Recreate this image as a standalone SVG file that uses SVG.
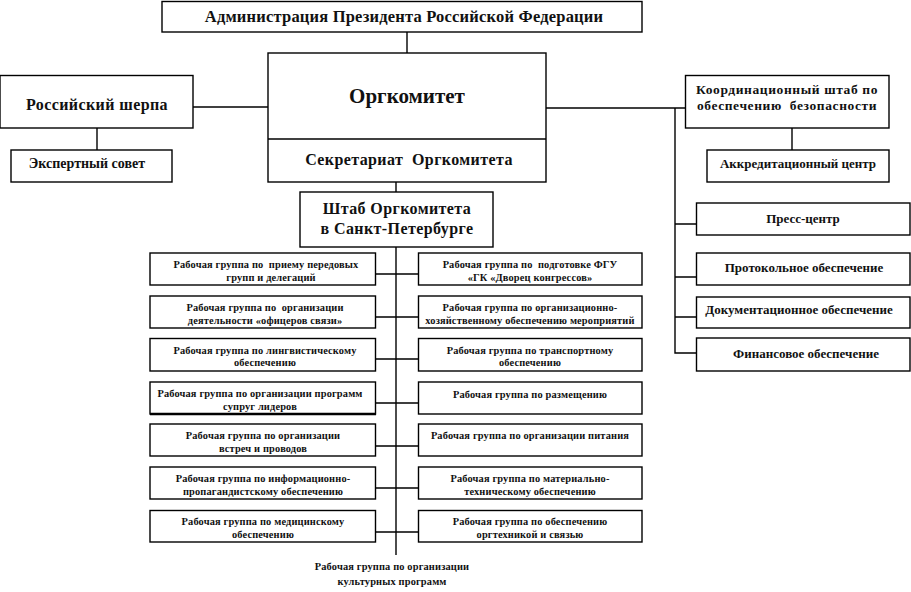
<svg xmlns="http://www.w3.org/2000/svg" width="911" height="592" viewBox="0 0 911 592">
<style>
rect{fill:#fff;stroke:#000;stroke-width:1.4}
text{font-family:"Liberation Serif","Times New Roman",serif;font-weight:bold;fill:#111;text-anchor:middle}
.s{font-size:10.4px;letter-spacing:0.15px}
.m{font-size:13px}
.l{font-size:16px;letter-spacing:0.4px}
#connectors path{fill:none;stroke:#000;stroke-width:1.4}
</style>
<rect width="911" height="592" style="fill:#fff;stroke:none"/>
<g id="connectors">
<path d="M407 32V53"/>
<path d="M193 107H268"/>
<path d="M97 128V150"/>
<path d="M546 108H685"/>
<path d="M675 108V353H696"/>
<path d="M675 224H696M675 277H696M675 317H696"/>
<path d="M792 128V150"/>
<path d="M396 182V192"/>
<path d="M396 247V555"/>
<path d="M375 274H418M375 317H418M375 359H418M375 403H418M375 446H418M375 488H418M375 532H418"/>
</g>
<g id="admin"><rect x="162" y="1.5" width="480" height="30.5"/><text x="404" y="22" style="font-size:16.5px;letter-spacing:0.2px">Администрация Президента Российской Федерации</text></g>
<g id="orgkomitet"><rect x="268" y="53" width="278" height="129"/><path d="M268 139H546" style="stroke:#000;stroke-width:1.4"/><text x="407" y="103" style="font-size:21px">Оргкомитет</text></g>
<g id="secretariat"><text x="409" y="165" class="l" xml:space="preserve">Секретариат  Оргкомитета</text></g>
<g id="sherpa"><rect x="0" y="75.5" width="193" height="52.5"/><text x="97" y="110" class="l">Российский шерпа</text></g>
<g id="expert"><rect x="11" y="150" width="161" height="32"/><text x="87" y="168" style="font-size:14px">Экспертный совет</text></g>
<g id="shtab"><rect x="300" y="192" width="193" height="55"/><text x="397" y="214" class="l">Штаб Оргкомитета</text><text x="397" y="234" class="l">в Санкт-Петербурге</text></g>
<g id="coord"><rect x="685.5" y="75.5" width="203.5" height="52.5"/><text x="787" y="94" style="font-size:13.5px;letter-spacing:0.6px">Координационный штаб по</text><text x="787" y="110" style="font-size:13.5px;letter-spacing:0.6px" xml:space="preserve">обеспечению  безопасности</text></g>
<g id="accred"><rect x="707" y="150" width="182" height="32"/><text x="798" y="167.5" class="m">Аккредитационный центр</text></g>
<g id="press"><rect x="696.5" y="203" width="213.5" height="32"/><text x="803" y="222.5" class="m">Пресс-центр</text></g>
<g id="protocol"><rect x="696.5" y="253" width="213.5" height="32"/><text x="804" y="271.5" class="m">Протокольное обеспечение</text></g>
<g id="docs"><rect x="696.5" y="297" width="213.5" height="31"/><text x="799" y="313.5" class="m">Документационное обеспечение</text></g>
<g id="finance"><rect x="696.5" y="338" width="213.5" height="33"/><text x="806" y="357.5" class="m">Финансовое обеспечение</text></g>
<g id="wg-l1"><rect x="150" y="253" width="225.5" height="32"/><text x="266" y="268" class="s" xml:space="preserve">Рабочая группа по  приему передовых</text><text x="271" y="280.5" class="s">групп и делегаций</text></g>
<g id="wg-l2"><rect x="150" y="296" width="225.5" height="32"/><text x="265" y="311" class="s" xml:space="preserve">Рабочая группа по  организации</text><text x="265" y="323.5" class="s">деятельности «офицеров связи»</text></g>
<g id="wg-l3"><rect x="150" y="338.5" width="225.5" height="32.5"/><text x="265" y="353.5" class="s">Рабочая группа по лингвистическому</text><text x="265" y="366" class="s">обеспечению</text></g>
<g id="wg-l4"><rect x="150" y="382" width="225.5" height="32"/><path d="M150 414H376" style="stroke:#000;stroke-width:2.5"/><text x="260" y="397" class="s">Рабочая группа по организации программ</text><text x="260" y="409.5" class="s">супруг лидеров</text></g>
<g id="wg-l5"><rect x="150" y="424" width="225.5" height="32"/><text x="263" y="439" class="s">Рабочая группа по организации</text><text x="263" y="451.5" class="s">встреч и проводов</text></g>
<g id="wg-l6"><rect x="150" y="467" width="225.5" height="32"/><text x="263" y="482" class="s">Рабочая группа по информационно-</text><text x="263" y="494.5" class="s">пропагандистскому обеспечению</text></g>
<g id="wg-l7"><rect x="150" y="510.5" width="225.5" height="31.5"/><text x="263" y="525" class="s">Рабочая группа по медицинскому</text><text x="263" y="537.5" class="s">обеспечению</text></g>
<g id="wg-r1"><rect x="418.5" y="253" width="223.5" height="32"/><text x="530" y="268" class="s" xml:space="preserve">Рабочая группа по  подготовке ФГУ</text><text x="530" y="280.5" class="s">«ГК «Дворец конгрессов»</text></g>
<g id="wg-r2"><rect x="418.5" y="296" width="223.5" height="32"/><text x="530" y="311" class="s">Рабочая группа по организационно-</text><text x="530" y="323.5" class="s">хозяйственному обеспечению мероприятий</text></g>
<g id="wg-r3"><rect x="418.5" y="338.5" width="223.5" height="32.5"/><text x="530" y="353.5" class="s">Рабочая группа по транспортному</text><text x="530" y="366" class="s">обеспечению</text></g>
<g id="wg-r4"><rect x="418.5" y="382" width="223.5" height="32"/><text x="530" y="397.5" class="s">Рабочая группа по размещению</text></g>
<g id="wg-r5"><rect x="418.5" y="424" width="223.5" height="32"/><text x="530" y="438.5" class="s">Рабочая группа по организации питания</text></g>
<g id="wg-r6"><rect x="418.5" y="467" width="223.5" height="32"/><text x="530" y="482" class="s">Рабочая группа по материально-</text><text x="530" y="494.5" class="s">техническому обеспечению</text></g>
<g id="wg-r7"><rect x="418.5" y="510.5" width="223.5" height="31.5"/><text x="530" y="525" class="s">Рабочая группа по обеспечению</text><text x="530" y="537.5" class="s">оргтехникой и связью</text></g>
<g id="wg-culture"><text x="392" y="570" class="s">Рабочая группа по организации</text><text x="392" y="585" class="s">культурных программ</text></g>
</svg>
